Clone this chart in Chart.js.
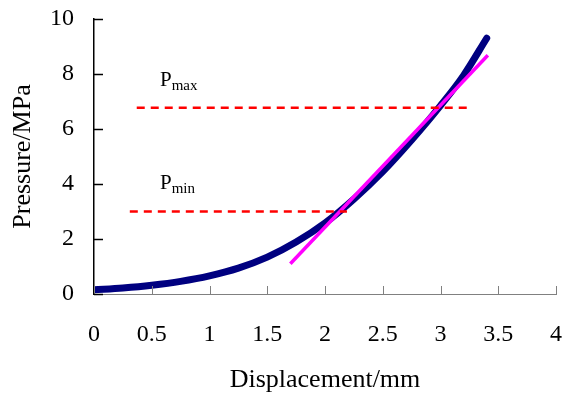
<!DOCTYPE html>
<html>
<head>
<meta charset="utf-8">
<script src="https://cdn.jsdelivr.net/npm/chart.js@4.4.1/dist/chart.umd.min.js"></script>
<style>
  body { margin: 0; background: #fff; }
  #wrap { width: 566px; height: 396px; }
</style>
</head>
<body>
<div id="wrap"><canvas id="chart" width="566" height="396"></canvas></div>
<script>
// measured curve (displacement mm -> pressure MPa)
const dispX = [0, 0.25, 0.5, 0.75, 1.0, 1.25, 1.5, 1.75, 2.0, 2.25, 2.5, 2.75, 3.0, 3.2, 3.4];
const pressureY = [0.15, 0.22, 0.32, 0.46, 0.66, 0.94, 1.34, 1.89, 2.58, 3.45, 4.45, 5.6, 6.85, 7.95, 9.3];

// linear fit segment
const fitX = [1.7, 3.41];
const fitY = [1.1, 8.68];

// reference pressure levels
const pmaxX = [0.37, 3.23];
const pmaxY = [6.77, 6.77];
const pminX = [0.31, 2.19];
const pminY = [3.0, 3.0];

// label anchors (left, baseline) in data units
const labelNames = ['max', 'min'];
const labelX = [0.571, 0.571];
const labelY = [7.58, 3.82];

const xTickLabels = ['0', '0.5', '1', '1.5', '2', '2.5', '3', '3.5', '4'];
const yTickLabels = ['0', '2', '4', '6', '8', '10'];

const toPts = (xs, ys) => xs.map((x, i) => ({ x, y: ys[i] }));
const SERIF = "'Liberation Serif', 'Times New Roman', serif";

// fixed box sizes so the plot area lands where the original has it
const fixBox = size => s => {
  if (s.isHorizontal()) s.height = size; else s.width = size;
  s.paddingTop = 0; s.paddingBottom = 0; s.paddingLeft = 0; s.paddingRight = 0;
};

// inner tick marks and P labels
const extras = {
  id: 'extras',
  afterDatasetsDraw(chart) {
    const { ctx, scales: { x, y }, chartArea } = chart;
    ctx.save();
    ctx.strokeStyle = '#808080';
    ctx.lineWidth = 1;
    x.ticks.forEach(t => {
      const px = Math.round(x.getPixelForValue(t.value)) + 0.5;
      ctx.beginPath();
      ctx.moveTo(px, chartArea.bottom);
      ctx.lineTo(px, chartArea.bottom - 8);
      ctx.stroke();
    });
    ctx.strokeStyle = '#000';
    ctx.lineWidth = 1.5;
    y.ticks.forEach(t => {
      const py = Math.round(y.getPixelForValue(t.value)) + 0.5;
      ctx.beginPath();
      ctx.moveTo(chartArea.left, py);
      ctx.lineTo(chartArea.left + 9, py);
      ctx.stroke();
    });
    ctx.fillStyle = '#000';
    ctx.textBaseline = 'alphabetic';
    ctx.textAlign = 'left';
    labelNames.forEach((sub, i) => {
      const px = x.getPixelForValue(labelX[i]);
      const py = y.getPixelForValue(labelY[i]);
      ctx.font = '21px ' + SERIF;
      ctx.fillText('P', px, py);
      const w = ctx.measureText('P').width;
      ctx.font = '15px ' + SERIF;
      ctx.fillText(sub, px + w, py + 4);
    });
    ctx.restore();
  }
};

new Chart(document.getElementById('chart'), {
  type: 'scatter',
  data: {
    datasets: [
      {
        data: toPts(pmaxX, pmaxY),
        showLine: true,
        borderColor: '#ff0000',
        borderWidth: 2.5,
        borderDash: [8, 6],
        pointRadius: 0
      },
      {
        data: toPts(pminX, pminY),
        showLine: true,
        borderColor: '#ff0000',
        borderWidth: 2.5,
        borderDash: [8, 6],
        pointRadius: 0
      },
      {
        data: toPts(fitX, fitY),
        showLine: true,
        borderColor: '#ff00ff',
        borderWidth: 3.5,
        pointRadius: 0
      },
      {
        data: toPts(dispX, pressureY),
        showLine: true,
        borderColor: '#000080',
        borderWidth: 7,
        borderCapStyle: 'round',
        cubicInterpolationMode: 'monotone',
        pointRadius: 0
      }
    ]
  },
  options: {
    responsive: false,
    animation: false,
    layout: { padding: { top: 19, right: 10, left: 0, bottom: 0 } },
    plugins: {
      legend: { display: false },
      tooltip: { enabled: false }
    },
    scales: {
      x: {
        type: 'linear',
        min: 0,
        max: 4,
        afterFit: fixBox(102),
        afterBuildTicks: s => { s.ticks = xTickLabels.map(l => ({ value: parseFloat(l) })); },
        grid: { display: true, drawOnChartArea: false, drawTicks: false },
        border: { color: '#808080', width: 1 },
        ticks: {
          padding: 26,
          color: '#000',
          font: { family: SERIF, size: 24 },
          callback: (v, i) => xTickLabels[i]
        },
        title: {
          display: true,
          text: 'Displacement/mm',
          color: '#000',
          font: { family: SERIF, size: 26 },
          padding: { top: 1, bottom: 0 }
        }
      },
      y: {
        type: 'linear',
        min: 0,
        max: 10,
        afterFit: fixBox(94),
        afterBuildTicks: s => { s.ticks = yTickLabels.map(l => ({ value: parseFloat(l) })); },
        grid: { display: true, drawOnChartArea: false, drawTicks: false },
        border: { color: '#000', width: 1.5 },
        ticks: {
          padding: 20,
          color: '#000',
          font: { family: SERIF, size: 24 },
          callback: (v, i) => yTickLabels[i]
        },
        title: {
          display: true,
          text: 'Pressure/MPa',
          color: '#000',
          font: { family: SERIF, size: 26 },
          padding: { top: 8, bottom: 0 }
        }
      }
    }
  },
  plugins: [extras]
});
</script>
</body>
</html>
